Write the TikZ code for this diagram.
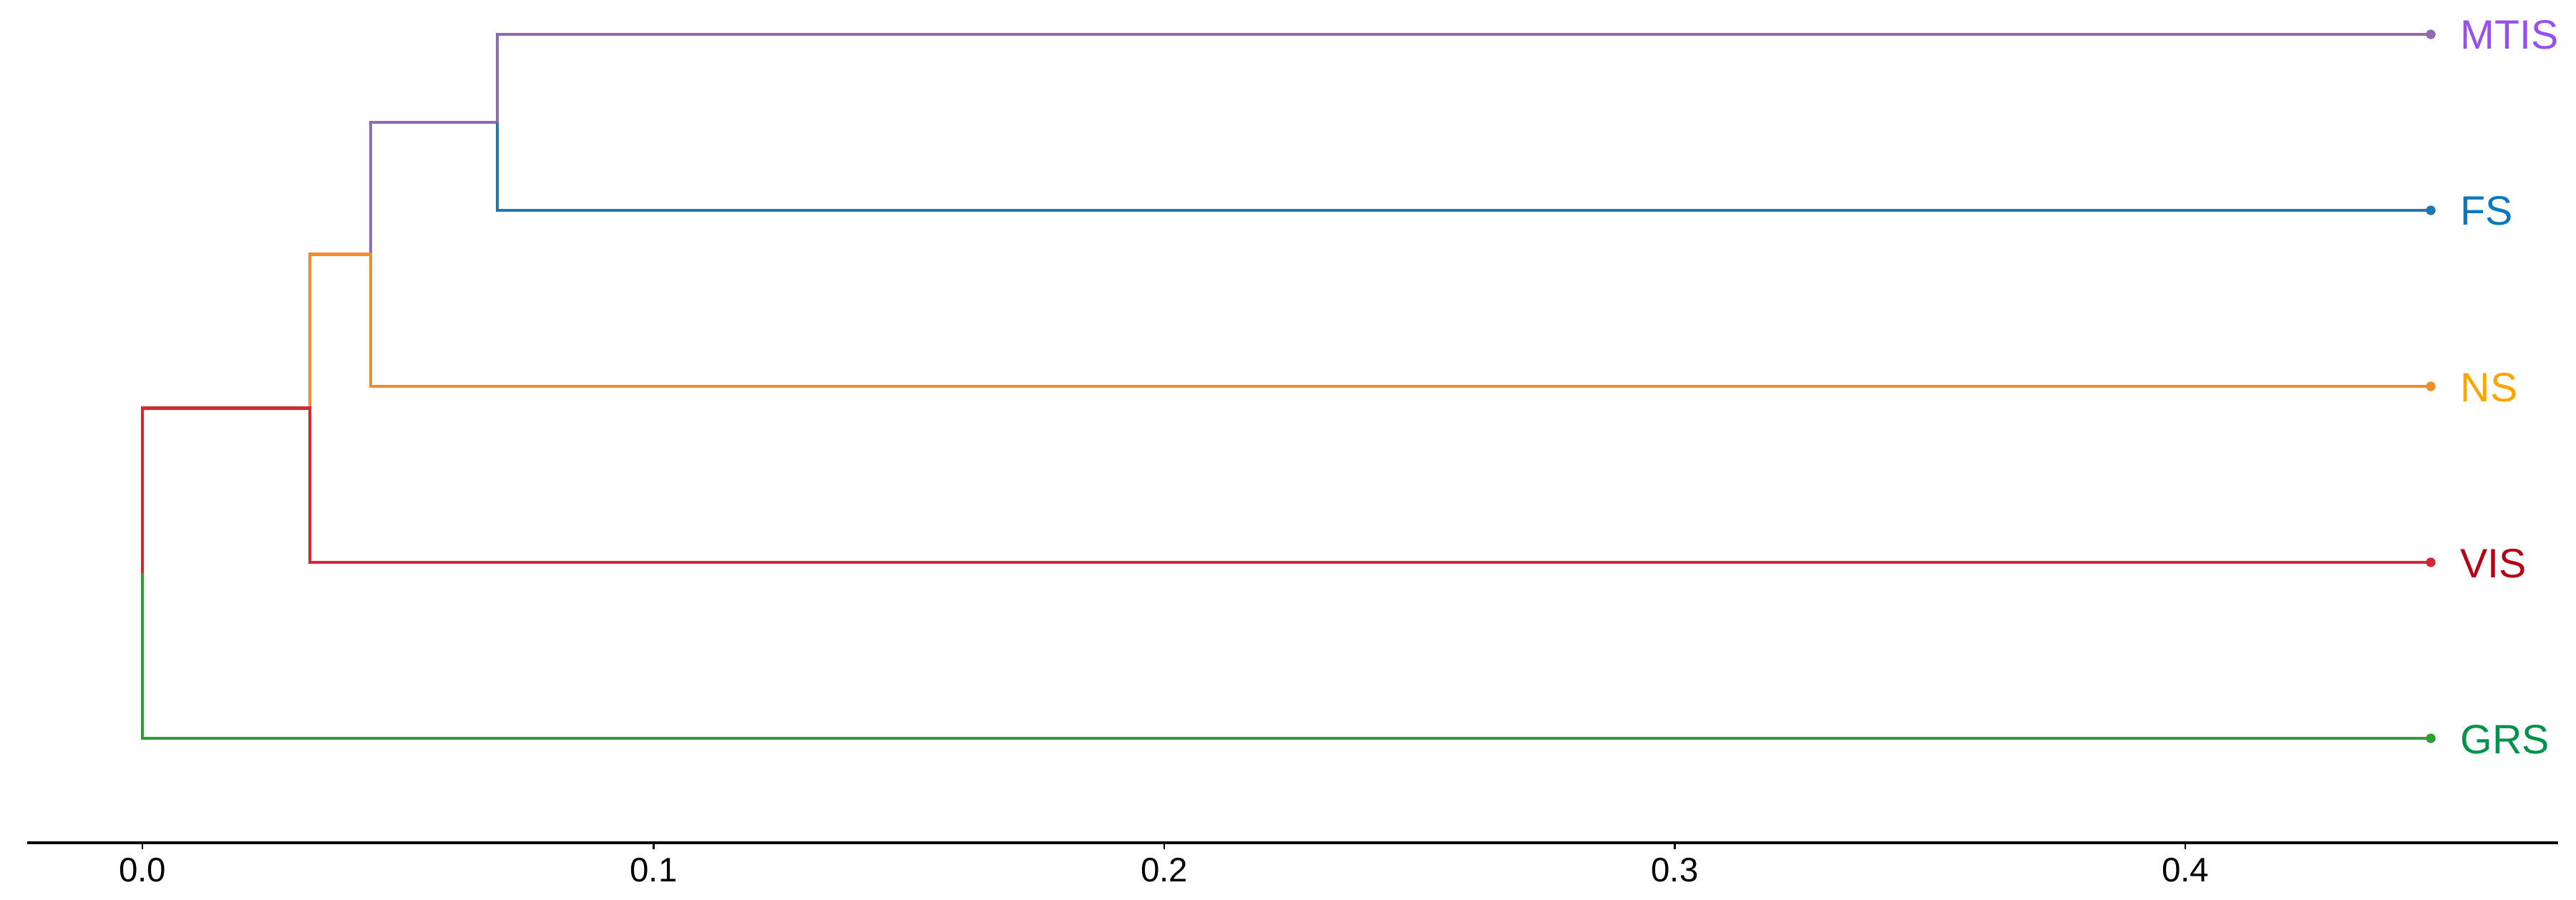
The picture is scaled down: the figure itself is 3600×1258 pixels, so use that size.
\documentclass[tikz,border=0pt]{standalone}
\usepackage{fontspec}
\setmainfont{Liberation Sans}
\definecolor{cPurple}{RGB}{148,103,189}
\definecolor{cBlue}{RGB}{31,119,180}
\definecolor{cOrange}{RGB}{242,140,40}
\definecolor{cRed}{RGB}{214,39,48}
\definecolor{cGreen}{RGB}{44,160,44}
\definecolor{tPurple}{RGB}{150,80,240}
\definecolor{tBlue}{RGB}{10,120,190}
\definecolor{tOrange}{RGB}{255,165,0}
\definecolor{tRed}{RGB}{180,0,20}
\definecolor{tGreen}{RGB}{0,145,75}
\begin{document}
\begin{tikzpicture}[x=0.01cm,y=-0.01cm,
  branch/.style={line width=1.4pt,line join=miter},
  leafdot/.style={circle,fill=#1,draw=none,inner sep=0pt,minimum size=0.13cm},
  leaflabel/.style={anchor=base west,inner sep=0pt,text=#1,font=\fontsize{16.3pt}{18pt}\selectfont},
  ticklabel/.style={anchor=base,inner sep=0pt,font=\fontsize{13.5pt}{15pt}\selectfont},
  axisline/.style={line width=1.2pt,black},
  tickmark/.style={line width=0.6pt,black}]
\fill[white] (0,0) rectangle (3600,1258);
\useasboundingbox (0,0) rectangle (3600,1258);
% junctions
\coordinate (j1) at (695,171);
\coordinate (j2) at (518,355.5);
\coordinate (j3) at (433,570.75);
\coordinate (j4) at (199,801);
% leaves
\node[leafdot=cPurple] (L1) at (3397,48) {};
\node[leafdot=cBlue] (L2) at (3397,294) {};
\node[leafdot=cOrange] (L3) at (3397,540) {};
\node[leafdot=cRed] (L4) at (3397,786) {};
\node[leafdot=cGreen] (L5) at (3397,1032) {};
% branches
\draw[branch,cPurple] (j2) |- (j1) |- (L1.center);
\draw[branch,cBlue] (j1) |- (L2.center);
\draw[branch,cOrange] (j3) |- (j2) |- (L3.center);
\draw[branch,cRed] (j4) |- (j3) |- (L4.center);
\draw[branch,cGreen] (j4) |- (L5.center);
% dots on top
\node[leafdot=cPurple] at (L1) {};
\node[leafdot=cBlue] at (L2) {};
\node[leafdot=cOrange] at (L3) {};
\node[leafdot=cRed] at (L4) {};
\node[leafdot=cGreen] at (L5) {};
% labels
\node[leaflabel=tPurple] (MTIS) at (3438,69) {MTIS};
\node[leaflabel=tBlue] (FS) at (3438,315) {FS};
\node[leaflabel=tOrange] (NS) at (3438,561) {NS};
\node[leaflabel=tRed] (VIS) at (3438,807) {VIS};
\node[leaflabel=tGreen] (GRS) at (3438,1053) {GRS};
% axis
\coordinate (ax0) at (38,1178);
\coordinate (ax1) at (3575,1178);
\draw[axisline] (ax0) -- (ax1);
\foreach \v/\x [count=\i] in {0.0/199,0.1/913.5,0.2/1627,0.3/2340.5,0.4/3054}{
  \coordinate (tk\i) at (\x,1178);
  \coordinate (tb\i) at (\x,1187);
  \draw[tickmark] (tk\i) -- (tb\i);
  \node[ticklabel] (tl\i) at (\x,1232) {\v};
}
\end{tikzpicture}
\end{document}
